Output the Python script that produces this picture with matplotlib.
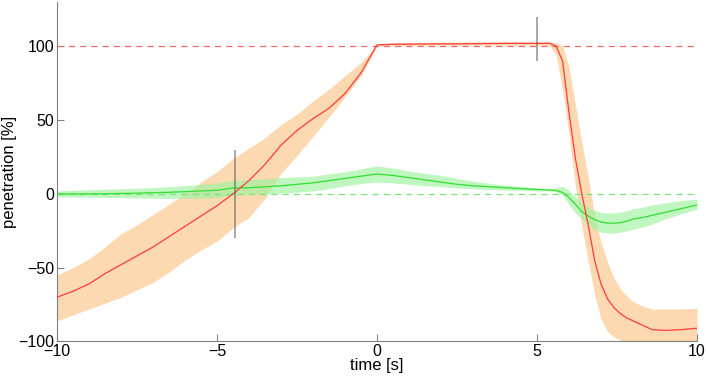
import numpy as np
import matplotlib.pyplot as plt

plt.rcParams['font.family'] = ['Liberation Sans', 'DejaVu Sans']

# Zeitpunkte [s]
t = [-10, -9.5, -9, -8.5, -8, -7.5, -7, -6.5, -6, -5.5, -5, -4.5, -4, -3.5, -3,
     -2.5, -2, -1.5, -1, -0.5, 0, 0.5, 1, 1.5, 2, 2.5, 3, 4, 5, 5.4, 5.6, 5.8,
     6.0, 6.2, 6.4, 6.6, 6.8, 7.0, 7.2, 7.4, 7.6, 7.8, 8.0, 8.3, 8.6, 9, 9.5, 10]

# rote Kurve (Mittelwert und Band)
red_mean = [-70, -66, -61, -54, -48, -42, -36, -29, -22, -15, -8, 0, 9, 20, 33,
            43, 51, 58, 68, 82, 101, 101.4, 101.5, 101.6, 101.7, 101.7, 101.8, 102, 102, 102, 100, 90,
            55, 24, 0, -21, -45, -61, -71, -77, -81, -84, -86, -89, -92, -92.5, -92, -91]
red_lo = [-86, -82, -78, -74, -70, -65, -60, -53, -45, -38, -32, -23, -16, -3, 14,
          26, 39, 52, 66, 80, 100, 100.5, 100.6, 100.6, 100.7, 100.7, 100.8, 100.8, 100.8, 100.5, 94, 70,
          40, 5, -22, -46, -68, -85, -93, -97, -99, -101, -103, -104, -105, -105, -105, -105]
red_hi = [-55, -50, -44, -36, -27, -21, -14, -7, 0, 8, 15, 24, 31, 38, 47,
          54, 63, 71, 80, 89, 101, 102.5, 102.6, 102.7, 102.8, 102.8, 102.9, 103, 103, 103, 102.5, 100,
          86, 60, 35, 11, -14, -33, -46, -57, -64, -69, -73, -76, -78, -78, -78, -77.5]

# grüne Kurve (Mittelwert und Band)
green_mean = [0, 0, 0, 0.1, 0.3, 0.5, 0.8, 1.1, 1.5, 2, 2.5, 4, 4.2, 4.8, 5.5,
              6.5, 7.5, 9, 10.5, 12, 13.5, 12.5, 11, 9.5, 8, 6.5, 5.5, 4.2, 3, 2.6, 2.3, 1,
              -2.5, -7, -12, -15, -17.5, -19, -19.8, -19.8, -19.5, -18.5, -17, -16, -14.5, -12.5, -10, -7.5]
green_lo = [-2, -2.1, -2.2, -2.4, -2.5, -2.8, -3, -3, -3, -3, -2.5, -0.7, -0.3, 0, 0.5,
            1.2, 2, 3.5, 5.5, 7, 8, 7.5, 6.5, 5.5, 5, 4, 3.5, 2.5, 2, 2, 1.5, -1,
            -7, -13, -17, -21, -24, -26, -26.5, -26.5, -26, -25, -24, -22.5, -20.5, -17, -13.5, -10.5]
green_hi = [2, 2.4, 2.8, 3.2, 3.5, 3.9, 4.3, 4.9, 5.5, 6.5, 7.5, 9, 9.8, 10.4, 11,
            11.5, 12, 13.5, 15, 17, 19, 17.5, 15.5, 14, 12.5, 10.5, 8.5, 6, 4, 3.5, 4.5, 5,
            2.5, -2, -6, -9, -11, -12.5, -13, -12.8, -12.3, -11.5, -10, -9, -7.5, -6, -4.5, -3.5]

# Markierungen
mark_x = [-4.45, 5]
mark_lo = [-30, 90]
mark_hi = [30, 120]

fig = plt.figure(figsize=(7.06, 3.78), dpi=100)
ax = fig.add_axes([0.0807, 0.0966, 0.9066, 0.898])

ax.fill_between(t, red_lo, red_hi, color='#fcd5a8', alpha=0.9, lw=0, zorder=1)
ax.fill_between(t, green_lo, green_hi, color='#9ef29e', alpha=0.65, lw=0, zorder=2)
ax.axhline(100, color='#f06a6a', ls='--', lw=0.9, dashes=(5, 4), zorder=3)
ax.axhline(0, color='#7ae67a', ls='--', lw=0.9, dashes=(5, 4), zorder=3)
ax.plot(t, green_mean, color='#33dd33', lw=0.9, zorder=4)
ax.plot(t, red_mean, color='#ff3b3b', lw=0.9, zorder=5)
ax.vlines(mark_x, mark_lo, mark_hi, color='#555555', alpha=0.55, lw=1.3, zorder=6)

ax.set_xlim(-10, 10)
ax.set_ylim(-100, 130)
ax.set_xticks([-10, -5, 0, 5, 10])
ax.set_yticks([-100, -50, 0, 50, 100])
ax.set_xticklabels(['\u221210', '\u22125', '0', '5', '10'])
ax.set_yticklabels(['\u2212100', '\u221250', '0', '50', '100'])
ax.tick_params(direction='in', length=5, color='#808080', labelsize=11.5, pad=2)
for s in ['top', 'right']:
    ax.spines[s].set_visible(False)
for s in ['left', 'bottom']:
    ax.spines[s].set_color('#808080')
ax.set_xlabel('time [s]', fontsize=12, labelpad=-1)
ax.set_ylabel('penetration [%]', fontsize=12, labelpad=1)

fig.savefig('out.png', dpi=100)
